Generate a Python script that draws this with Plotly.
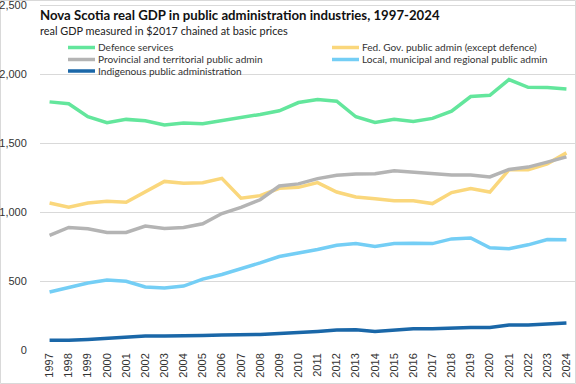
import plotly.graph_objects as go

years = list(range(1997, 2025))
series_names = [
    "Defence services",
    "Fed. Gov. public admin (except defence)",
    "Provincial and territorial public admin",
    "Local, municipal and regional public admin",
    "Indigenous public administration",
]
defence = [1800, 1786, 1692, 1649, 1673, 1663, 1632, 1646, 1642, 1663, 1685, 1709, 1735, 1795,
           1817, 1805, 1692, 1651, 1673, 1658, 1680, 1733, 1839, 1848, 1962, 1906, 1904, 1894]
federal = [1067, 1036, 1067, 1079, 1072, 1149, 1223, 1209, 1214, 1245, 1101, 1120, 1173, 1180,
           1214, 1146, 1110, 1098, 1082, 1082, 1062, 1142, 1171, 1146, 1308, 1308, 1351, 1430]
provincial = [832, 889, 880, 853, 853, 899, 882, 889, 916, 990, 1034, 1090, 1190, 1205,
              1243, 1267, 1276, 1279, 1300, 1291, 1281, 1269, 1269, 1255, 1310, 1327, 1363, 1401]
local = [421, 452, 486, 507, 498, 457, 449, 464, 514, 548, 589, 632, 678, 701,
         729, 760, 772, 751, 772, 775, 772, 806, 813, 741, 734, 763, 801, 799]
indigenous = [70, 70, 77, 87, 94, 101, 101, 106, 106, 108, 108, 113, 120, 125,
              135, 145, 147, 135, 145, 154, 154, 161, 164, 164, 181, 181, 188, 195]
y_ticks = [0, 500, 1000, 1500, 2000, 2500]

title = "Nova Scotia real GDP in public administration industries, 1997-2024"
subtitle = "real GDP measured in $2017 chained at basic prices"

colors = ["#63E69C", "#FAD77C", "#B4B4B4", "#74CEF5", "#1A67A8"]
values = [defence, federal, provincial, local, indigenous]

W, H = 576, 384
L, R, T, B = 40, 0, 4, 34
pw, ph = W - L - R, H - T - B


def px_x(px):
    return (px - L) / pw


def px_y(py):
    return (H - B - py) / ph


fig = go.Figure()
for name, vals, col in zip(series_names, values, colors):
    fig.add_trace(go.Scatter(x=years, y=vals, mode="lines", name=name,
                             line=dict(color=col, width=3.5), showlegend=False))

shapes = []
annotations = []
# manual two-column legend
legend_pos = [(68, 47.5), (332, 47.5), (68, 59.5), (332, 59.5), (68, 71)]
for (lx, ly), name, col in zip(legend_pos, series_names, colors):
    shapes.append(dict(type="line", xref="paper", yref="paper",
                       x0=px_x(lx), x1=px_x(lx + 27), y0=px_y(ly), y1=px_y(ly),
                       line=dict(color=col, width=3.5)))
    annotations.append(dict(xref="paper", yref="paper", x=px_x(lx + 28), y=px_y(ly),
                            xanchor="left", yanchor="middle", showarrow=False, text=name,
                            font=dict(family="Lato", size=10.1, color="#333333")))

annotations.append(dict(xref="paper", yref="paper", x=px_x(38), y=px_y(15),
                        xanchor="left", yanchor="middle", showarrow=False,
                        text="<b>" + title + "</b>",
                        font=dict(family="Lato", size=13.2, color="#111111")))
annotations.append(dict(xref="paper", yref="paper", x=px_x(38), y=px_y(30),
                        xanchor="left", yanchor="middle", showarrow=False,
                        text=subtitle,
                        font=dict(family="Lato", size=10.9, color="#222222")))

# chart border
shapes.append(dict(type="rect", xref="paper", yref="paper",
                   x0=px_x(0.5), x1=px_x(575.5), y0=px_y(383.5), y1=px_y(0.5),
                   line=dict(color="#D9D9D9", width=1), layer="below"))

fig.update_layout(
    width=W, height=H,
    margin=dict(l=L, r=R, t=T, b=B),
    paper_bgcolor="white", plot_bgcolor="white",
    font=dict(family="Liberation Sans, Arial", size=11, color="#333333"),
    shapes=shapes, annotations=annotations,
    showlegend=False,
)
fig.update_xaxes(
    range=[1996.5, 2024.5], tickmode="array", tickvals=years,
    ticktext=[str(y) for y in years], tickangle=-90,
    showgrid=False, zeroline=False, showline=False,
    ticks="", tickfont=dict(family="Liberation Sans, Arial", size=11, color="#333333"),
    ticklabeloverflow="allow",
)
fig.update_yaxes(
    range=[0, 2510], tickmode="array", tickvals=y_ticks,
    ticktext=[f"{v:,}" for v in y_ticks],
    showgrid=True, gridcolor="#D9D9D9", gridwidth=1,
    zeroline=False, showline=False,
    ticks="outside", ticklen=10, tickcolor="rgba(0,0,0,0)",
    tickfont=dict(family="Liberation Sans, Arial", size=11, color="#333333"),
    ticklabeloverflow="allow",
    automargin=False,
)

fig.write_html(
    "out.html",
    config={"displayModeBar": False},
    post_script="document.body.style.margin='0';document.body.style.overflow='hidden';",
)
